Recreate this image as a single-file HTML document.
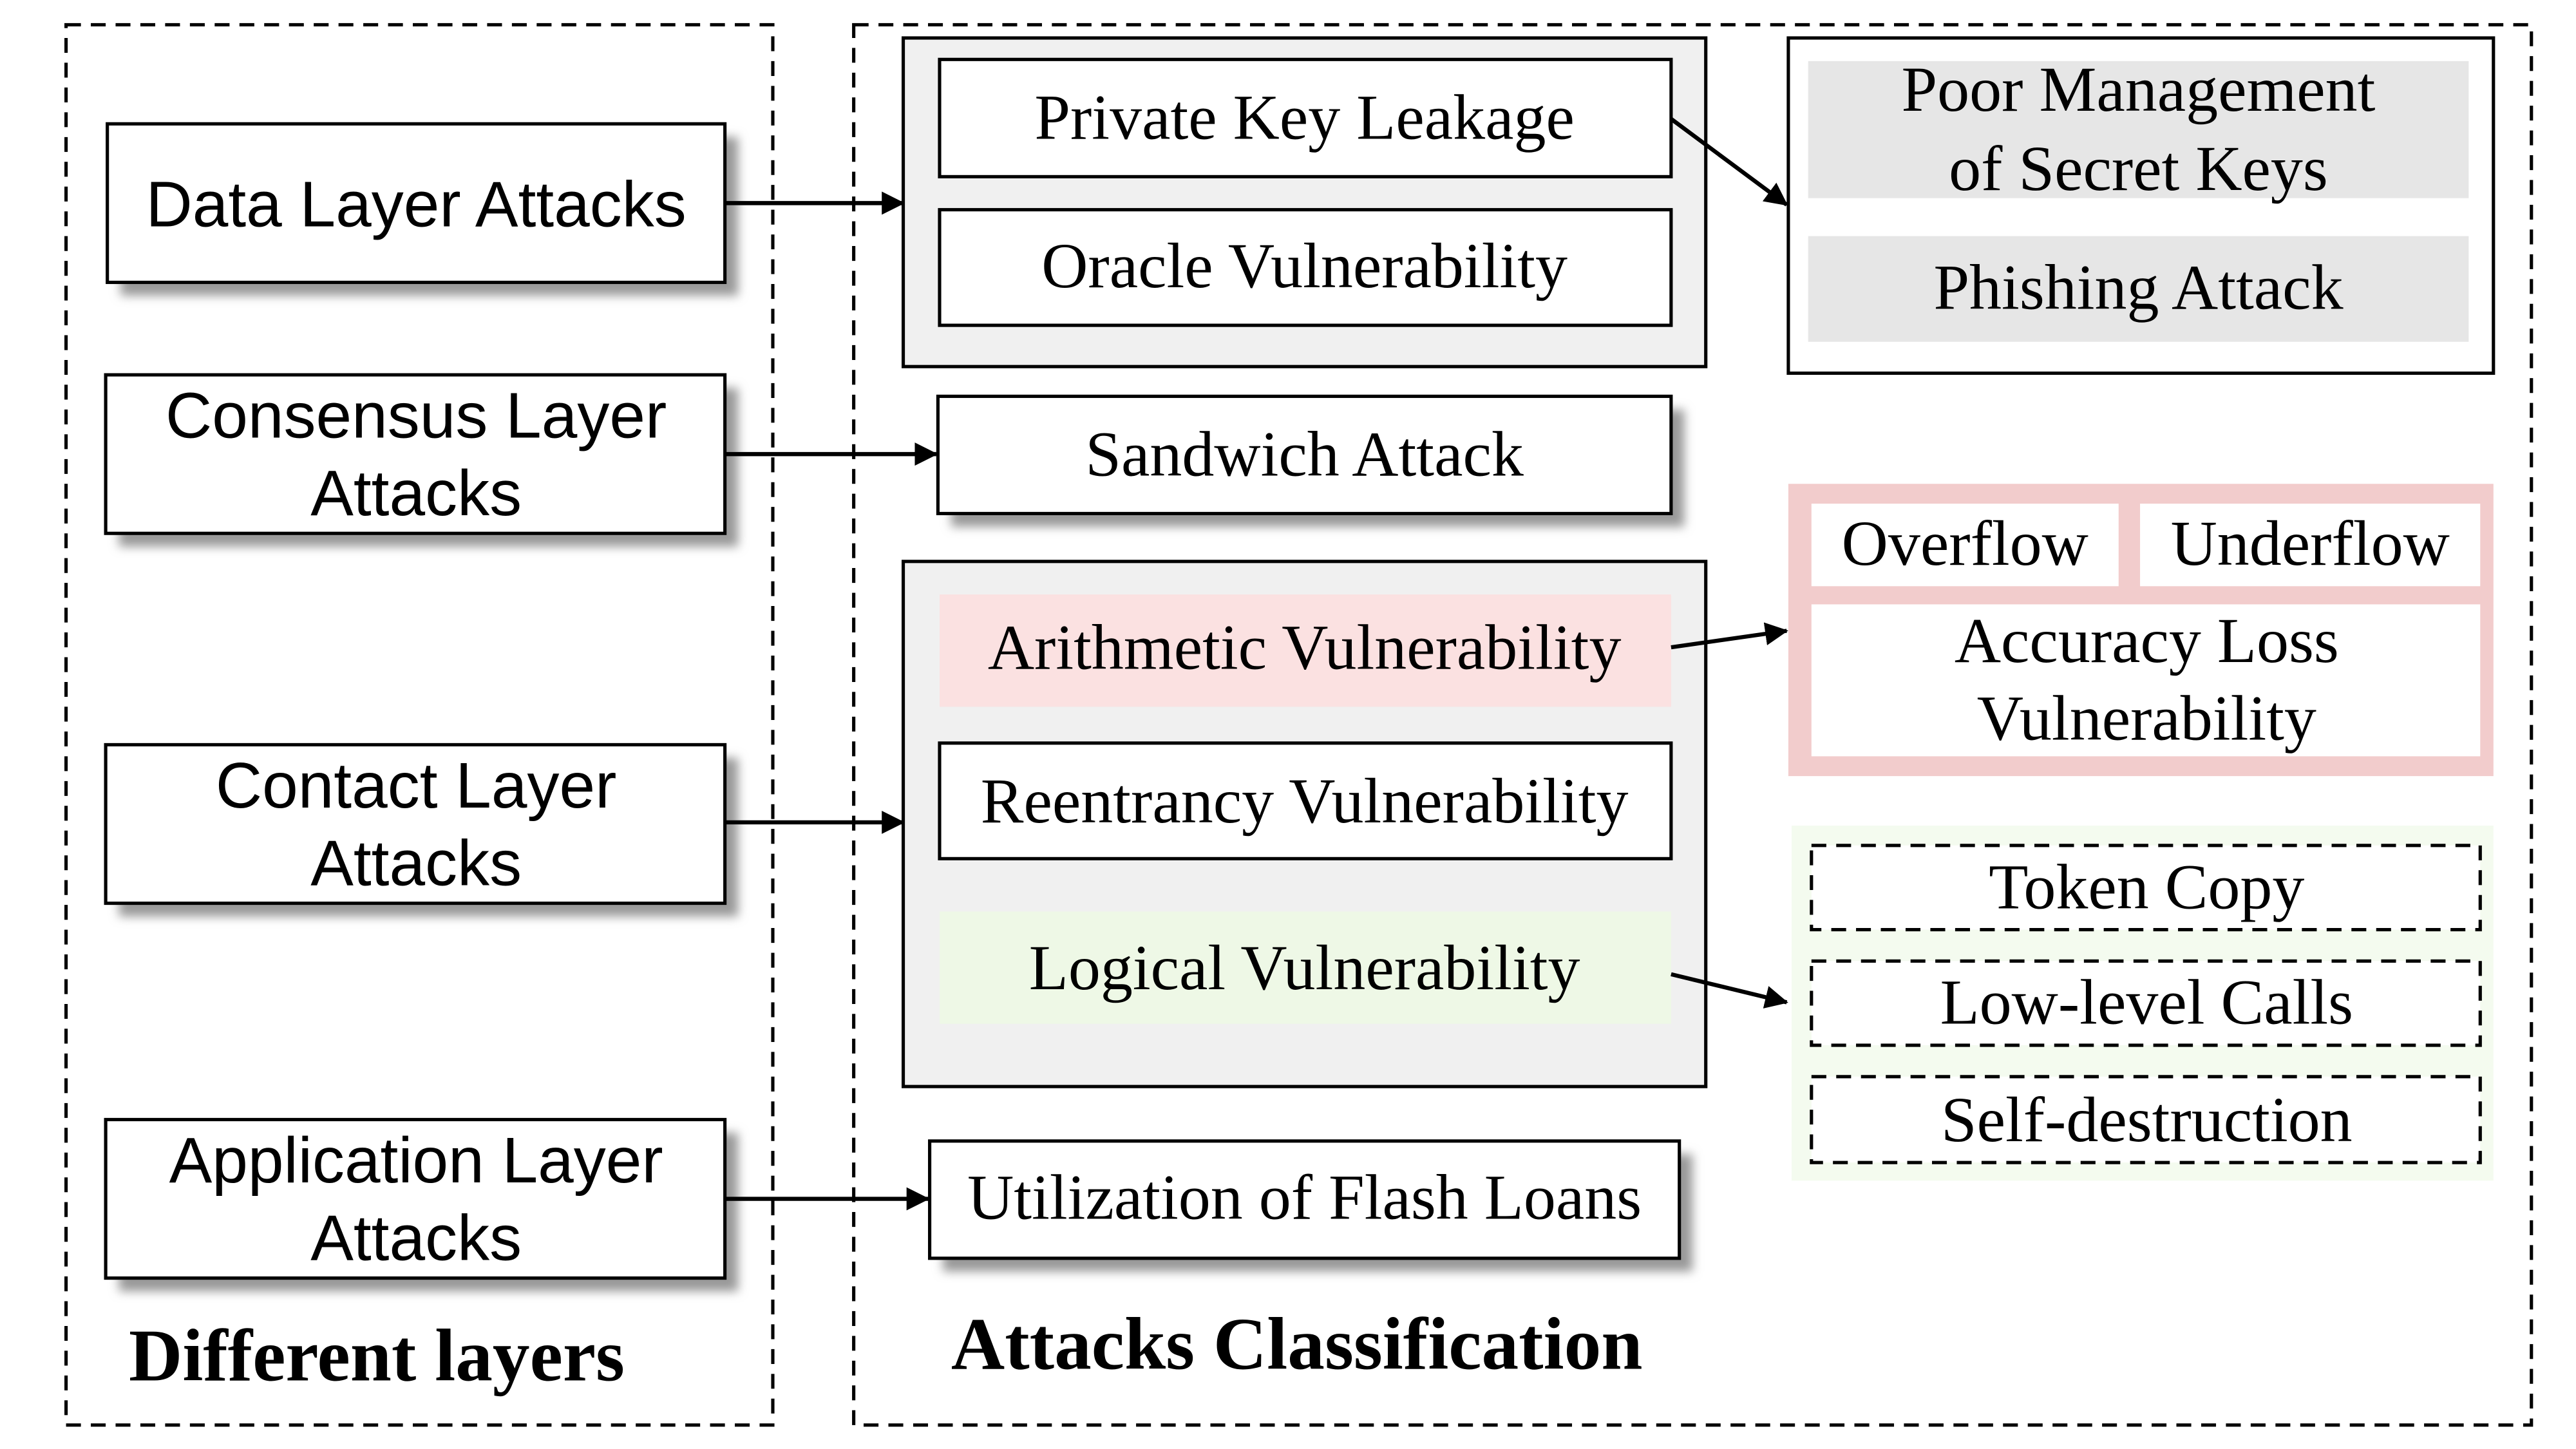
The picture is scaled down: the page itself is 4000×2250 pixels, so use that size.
<!DOCTYPE html>
<html><head><meta charset="utf-8"><style>html,body{margin:0;padding:0;background:#fff}svg{display:block}</style></head>
<body>
<svg width="4000" height="2250" viewBox="0 0 1560 877.5" xmlns="http://www.w3.org/2000/svg">
<defs>
<filter id="sh" x="-10%" y="-10%" width="130%" height="140%"><feGaussianBlur stdDeviation="3"/></filter>
<marker id="ah" markerWidth="14" markerHeight="14" refX="13" refY="7" orient="auto" markerUnits="userSpaceOnUse" viewBox="0 0 14 14"><path d="M0,0 L14,7 L0,14 z" fill="#000"/></marker>
</defs>
<rect width="1560" height="877.5" fill="#fff"/>
<g fill="none" stroke="#000" stroke-width="2" stroke-dasharray="9,6">
<rect x="40" y="15" width="428" height="848"/>
<rect x="517" y="15" width="1016" height="848"/>
</g>
<g fill="#999" filter="url(#sh)">
<rect x="73" y="83" width="374" height="96"/>
<rect x="72" y="235" width="375" height="96"/>
<rect x="72" y="459" width="375" height="96"/>
<rect x="72" y="686" width="375" height="96"/>
<rect x="577" y="44" width="443" height="71"/>
<rect x="577" y="135" width="443" height="70"/>
<rect x="576" y="248" width="444" height="71"/>
<rect x="577" y="368" width="443" height="68" opacity="0.8"/>
<rect x="577" y="458" width="443" height="70"/>
<rect x="577" y="560" width="443" height="68" opacity="0.8"/>
<rect x="571" y="699" width="454" height="71"/>
<rect x="1103" y="45" width="400" height="83"/>
<rect x="1103" y="151" width="400" height="64"/>
</g>
<g stroke="#000" stroke-width="2" fill="#fff">
<rect x="65" y="75" width="374" height="96"/>
<rect x="64" y="227" width="375" height="96"/>
<rect x="64" y="451" width="375" height="96"/>
<rect x="64" y="678" width="375" height="96"/>
</g>
<rect x="547" y="23" width="486" height="199" fill="#f0f0f0" stroke="#000" stroke-width="2"/>
<rect x="547" y="340" width="486" height="318" fill="#f0f0f0" stroke="#000" stroke-width="2"/>
<g stroke="#000" stroke-width="2" fill="#fff">
<rect x="569" y="36" width="443" height="71"/>
<rect x="569" y="127" width="443" height="70"/>
<rect x="568" y="240" width="444" height="71"/>
<rect x="569" y="450" width="443" height="70"/>
<rect x="563" y="691" width="454" height="71"/>
</g>
<rect x="569" y="360" width="443" height="68" fill="#fbe1e1"/>
<rect x="569" y="552" width="443" height="68" fill="#eef8e6"/>
<rect x="1083" y="23" width="427" height="203" fill="#fff" stroke="#000" stroke-width="2"/>
<rect x="1095" y="37" width="400" height="83" fill="#e6e6e6"/>
<rect x="1095" y="143" width="400" height="64" fill="#e6e6e6"/>
<rect x="1083" y="293" width="427" height="177" fill="#f2cccc"/>
<g fill="#fff">
<rect x="1097" y="305" width="186" height="50"/>
<rect x="1296" y="305" width="206" height="50"/>
<rect x="1097" y="366" width="405" height="92"/>
</g>
<rect x="1085" y="500" width="425" height="215" fill="#f4fbef"/>
<g fill="#fff" stroke="#000" stroke-width="2" stroke-dasharray="9,6">
<rect x="1097" y="512" width="405" height="51"/>
<rect x="1097" y="582" width="405" height="51"/>
<rect x="1097" y="652" width="405" height="52"/>
</g>
<g stroke="#000" stroke-width="2.5" marker-end="url(#ah)">
<line x1="439" y1="123" x2="547" y2="123"/>
<line x1="439" y1="275" x2="567" y2="275"/>
<line x1="439" y1="498" x2="547" y2="498"/>
<line x1="439" y1="726" x2="562" y2="726"/>
<line x1="1012" y1="72" x2="1082" y2="124"/>
<line x1="1012" y1="392" x2="1082" y2="382"/>
<line x1="1012" y1="590" x2="1082" y2="607"/>
</g>
<g font-family="Liberation Sans, sans-serif" font-size="39" text-anchor="middle" fill="#000">
<text x="252" y="137">Data Layer Attacks</text>
<text x="252" y="265">Consensus Layer</text>
<text x="252" y="312">Attacks</text>
<text x="252" y="489">Contact Layer</text>
<text x="252" y="536">Attacks</text>
<text x="252" y="716">Application Layer</text>
<text x="252" y="763">Attacks</text>
</g>
<g font-family="Liberation Serif, serif" font-size="39" text-anchor="middle" fill="#000">
<text x="790" y="84">Private Key Leakage</text>
<text x="790" y="174">Oracle Vulnerability</text>
<text x="790" y="288">Sandwich Attack</text>
<text x="790" y="405">Arithmetic Vulnerability</text>
<text x="790" y="498">Reentrancy Vulnerability</text>
<text x="790" y="599">Logical Vulnerability</text>
<text x="790" y="738">Utilization of Flash Loans</text>
<text x="1295" y="67">Poor Management</text>
<text x="1295" y="115">of Secret Keys</text>
<text x="1295" y="187">Phishing Attack</text>
<text x="1190" y="342">Overflow</text>
<text x="1399" y="342">Underflow</text>
<text x="1300" y="401">Accuracy Loss</text>
<text x="1300" y="448">Vulnerability</text>
<text x="1300" y="550">Token Copy</text>
<text x="1300" y="620">Low-level Calls</text>
<text x="1300" y="691">Self-destruction</text>
</g>
<g font-family="Liberation Serif, serif" font-size="45" font-weight="bold" fill="#000">
<text x="78" y="836">Different layers</text>
<text x="576" y="829">Attacks Classification</text>
</g>
</svg>
</body></html>
